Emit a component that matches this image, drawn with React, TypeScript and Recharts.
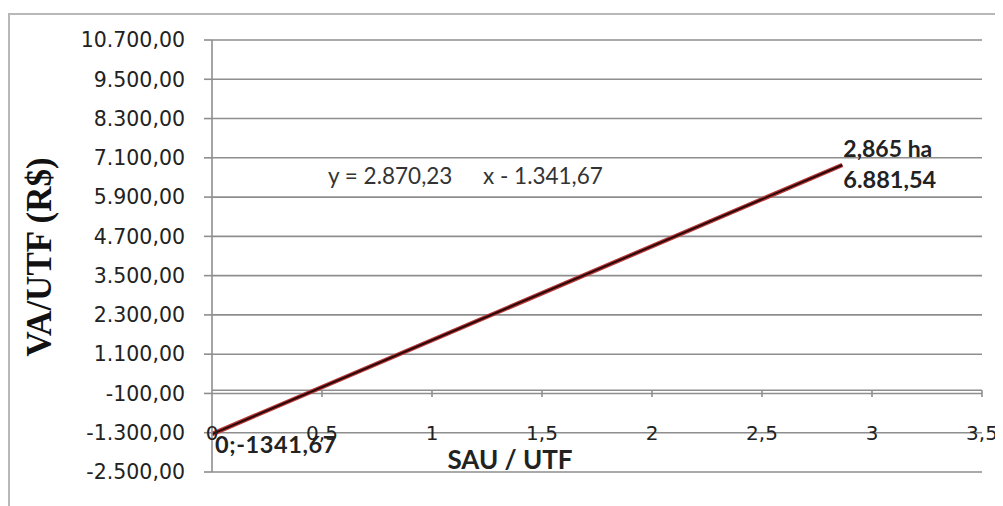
import React from 'react';
import { LineChart, Line, XAxis, YAxis, CartesianGrid, ReferenceLine, LabelList, Label } from 'recharts';

const xValues = [0, 2.865];
const yValues = [-1341.67, 6881.54];
const yTicks = [-2500, -1300, -100, 1100, 2300, 3500, 4700, 5900, 7100, 8300, 9500, 10700];
const xTicks = [0, 0.5, 1, 1.5, 2, 2.5, 3, 3.5];
const startLabel = '0;-1341,67';
const endLabelTop = '2,865 ha';
const endLabelBottom = '6.881,54';
const equationA = 'y = 2.870,23';
const equationB = 'x - 1.341,67';
const yTitle = 'VA/UTF (R$)';
const xTitle = 'SAU / UTF';

const data = xValues.map((x, i) => ({ x, y: yValues[i] }));

function fmt(v: number, d: number): string {
  const neg = v < 0;
  const s = Math.abs(v).toFixed(d);
  const parts = s.split('.');
  const i = parts[0].replace(/\B(?=(\d{3})+(?!\d))/g, '.');
  return (neg ? '-' : '') + i + (parts[1] ? ',' + parts[1] : '');
}

const TICK_FONT = '"DejaVu Sans", sans-serif';
const LABEL_FONT = 'Lato, "Open Sans", sans-serif';
const GRID = '#8e8e8e';

const XTick = (props: any) => {
  const { x, y, payload } = props;
  const v = payload.value as number;
  return (
    <text x={x} y={y - 39} textAnchor="middle" dominantBaseline="central" fontFamily={TICK_FONT} fontSize={20} fill="#222">
      {fmt(v, v % 1 ? 1 : 0)}
    </text>
  );
};

const PointLabel = (props: any) => {
  const { x, y, index } = props;
  if (index === 0) {
    return (
      <text x={x + 3} y={y + 10} dominantBaseline="central" fontFamily={LABEL_FONT} fontWeight={700} fontSize={23.5} letterSpacing={0.6} fill="#222">
        {startLabel}
      </text>
    );
  }
  return (
    <g>
      <text x={x + 1} y={y - 17} dominantBaseline="central" fontFamily={LABEL_FONT} fontWeight={700} fontSize={23} fill="#222">
        {endLabelTop}
      </text>
      <text x={x + 1} y={y + 14} dominantBaseline="central" fontFamily={LABEL_FONT} fontWeight={700} fontSize={23.5} fill="#222">
        {endLabelBottom}
      </text>
    </g>
  );
};

const YTitle = (props: any) => {
  const { viewBox } = props;
  const cx = viewBox.x + 31;
  const cy = viewBox.y + viewBox.height / 2 + 1;
  return (
    <text x={cx} y={cy} transform={`rotate(-90 ${cx} ${cy})`} textAnchor="middle" dominantBaseline="central"
      fontFamily='"Liberation Serif", "Times New Roman", serif' fontWeight={700} fontSize={35} fill="#111">
      {yTitle}
    </text>
  );
};

const XTitle = (props: any) => {
  const { viewBox } = props;
  const x0 = viewBox.x;
  const y0 = viewBox.y;
  return (
    <g>
      <text x={x0 + 298} y={y0 - 13} textAnchor="middle" dominantBaseline="central" fontFamily={LABEL_FONT} fontWeight={700} fontSize={26} fill="#222">
        {xTitle}
      </text>
      <text x={x0 + 116} y={y0 - 297} dominantBaseline="central" fontFamily={LABEL_FONT} fontSize={22.5} fill="#333">
        {equationA}
      </text>
      <text x={x0 + 271} y={y0 - 297} dominantBaseline="central" fontFamily={LABEL_FONT} fontSize={22.5} fill="#333">
        {equationB}
      </text>
    </g>
  );
};

export default function App() {
  return (
    <div style={{ position: 'relative', width: 995, height: 498 }}>
      <div style={{ position: 'absolute', left: 0, top: 5, width: 995, height: 493, borderTop: '2px solid #b8b8b8', borderLeft: '2px solid #b8b8b8', boxSizing: 'border-box' }} />
      <LineChart width={995} height={498} data={data} margin={{ top: 32, right: 21, bottom: 4, left: 0 }} style={{ position: 'absolute', left: 0, top: 0 }}>
        <CartesianGrid horizontal vertical={false} stroke={GRID} strokeWidth={1.6} />
        <XAxis dataKey="x" type="number" domain={[0, 3.5]} ticks={xTicks} axisLine={false} tickLine={false}
          tickSize={0} tickMargin={0} height={30} tick={<XTick />} interval={0}>
          <Label content={<XTitle />} />
        </XAxis>
        <YAxis type="number" domain={[-2500, 10700]} ticks={yTicks} width={204} interval={0}
          axisLine={{ stroke: GRID, strokeWidth: 1.6 }} tickLine={{ stroke: GRID, strokeWidth: 1.6 }} tickSize={8} tickMargin={19}
          tickFormatter={(v: number) => fmt(v, 2)}
          tick={{ fontFamily: TICK_FONT, fontSize: 20.5, fill: '#222' }}>
          <Label content={<YTitle />} />
        </YAxis>
        <ReferenceLine y={0} stroke={GRID} strokeWidth={1.6} />
        {xTicks.slice(1).map((t) => (
          <ReferenceLine key={t} segment={[{ x: t, y: 0 }, { x: t, y: -210 }]} stroke={GRID} strokeWidth={1.6} />
        ))}
        <Line dataKey="y" stroke="#b83838" strokeWidth={4.5} dot={false} isAnimationActive={false} />
        <Line dataKey="y" stroke="#2a0808" strokeWidth={2} dot={false} isAnimationActive={false}>
          <LabelList dataKey="y" content={<PointLabel />} />
        </Line>
      </LineChart>
    </div>
  );
}
